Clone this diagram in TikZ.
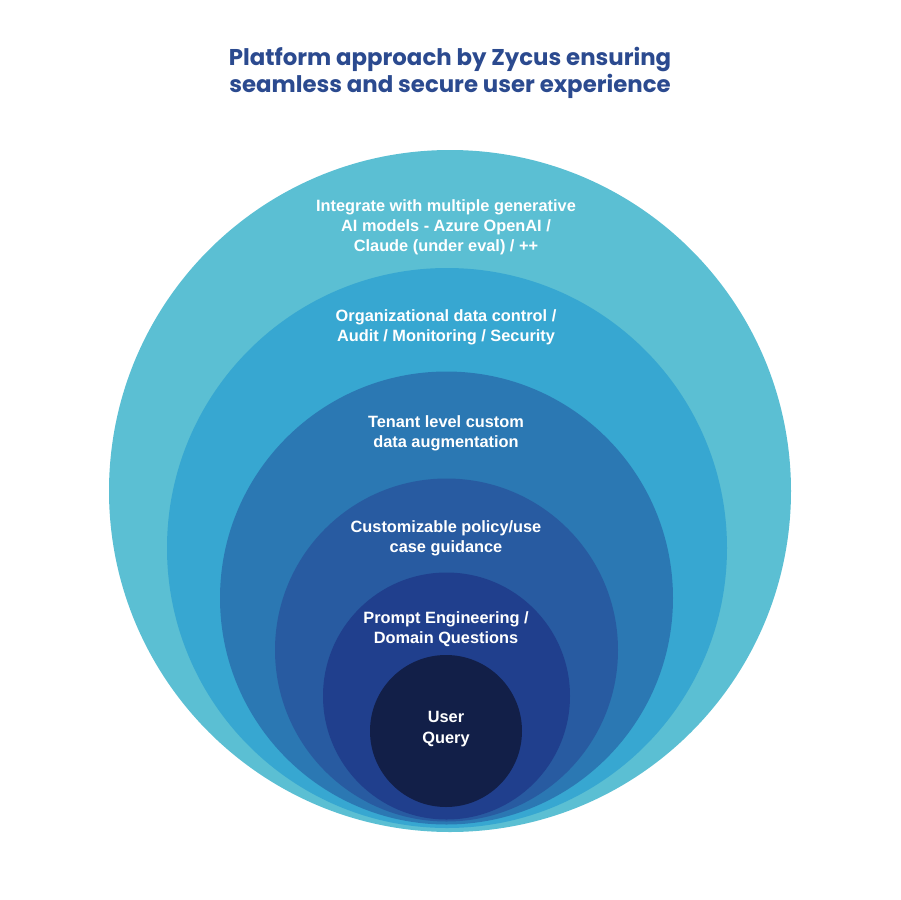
\documentclass[tikz,border=0pt]{standalone}
\usepackage{fontspec}
\setmainfont{Liberation Sans}
\newfontfamily\titlefont{Poppins}
\definecolor{ringa}{HTML}{5BBFD3}
\definecolor{ringb}{HTML}{37A7D1}
\definecolor{ringc}{HTML}{2B78B3}
\definecolor{ringd}{HTML}{285BA1}
\definecolor{ringe}{HTML}{203F8D}
\definecolor{ringf}{HTML}{121F48}
\definecolor{titleblue}{HTML}{2B4A8F}
\tikzset{lbl/.style={text=white,font=\bfseries\fontsize{9.3}{11.5}\selectfont,align=center}}
\begin{document}
\begin{tikzpicture}[x=0.02cm,y=-0.02cm]
\useasboundingbox (0,0) rectangle (900,900);

\node[text=titleblue,font=\titlefont\bfseries\fontsize{13}{15}\selectfont,align=center] (title) at (450,73) {Platform approach by Zycus ensuring\\seamless and secure user experience};

\fill[ringa] (450,491) circle (341) ;
\node[lbl] (models) at (446,227) {Integrate with multiple generative\\AI models - Azure OpenAI /\\Claude (under eval) / ++};

\fill[ringb] (447,548) circle (280) ;
\node[lbl] (control) at (446,327) {Organizational data control /\\Audit / Monitoring / Security};

\fill[ringc] (446.5,598) circle (226.5) ;
\node[lbl] (tenant) at (446,433) {Tenant level custom\\data augmentation};

\fill[ringd] (446.5,650) circle (171.5) ;
\node[lbl] (policy) at (446,538) {Customizable policy/use\\case guidance};

\fill[ringe] (446.5,696) circle (123.5) ;
\node[lbl] (prompt) at (446,629) {Prompt Engineering /\\Domain Questions};

\fill[ringf] (446,731) circle (76) ;
\node[lbl] (query) at (446,729) {User\\Query};
\end{tikzpicture}
\end{document}
